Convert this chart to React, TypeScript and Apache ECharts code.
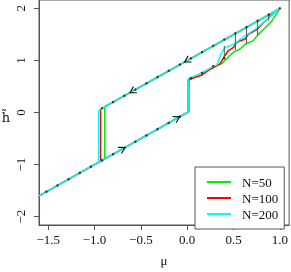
import React, { useEffect, useRef } from "react";
import * as echarts from "echarts";

const xTicks = [-1.5, -1.0, -0.5, 0.0, 0.5, 1.0];
const xTickLabels = ["−1.5", "−1.0", "−0.5", "0.0", "0.5", "1.0"];
const yTicks = [-2, -1, 0, 1, 2];
const yTickLabels = ["−2", "−1", "0", "1", "2"];

const seriesNames = ["N=50", "N=100", "N=200"];
const seriesColors = ["#00ee00", "#ff0000", "#00ffff"];

// hysteresis loops (forward sweep then backward sweep)
const mu50 = [-1.6, 0.02, 0.02, 0.16, 0.285, 0.374, 0.445, 0.5, 0.57, 0.624, 0.713, 0.766, 0.82, 0.91, 1.0, -0.89, -0.89, -1.6];
const h50 = [-1.6, 0.02, 0.64, 0.76, 0.88, 0.94, 1.07, 1.16, 1.22, 1.31, 1.38, 1.5, 1.59, 1.75, 1.99, 0.11, -0.89, -1.6];
const mu100 = [-1.6, 0.01, 0.01, 0.05, 0.1, 0.16, 0.22, 0.285, 0.356, 0.41, 0.445, 0.5, 0.535, 0.624, 0.66, 0.75, 0.82, 0.89, 1.0, -0.936, -0.936, -1.6];
const h100 = [-1.6, 0.01, 0.62, 0.65, 0.68, 0.72, 0.8, 0.86, 0.94, 1.1, 1.19, 1.25, 1.35, 1.41, 1.5, 1.59, 1.72, 1.84, 2.0, 0.064, -0.936, -1.6];
const mu200 = [-1.6, 0.01, 0.01, 0.16, 0.285, 0.32, 0.374, 0.41, 0.5, 0.624, 0.75, 0.874, 1.0, -0.94, -0.957, -0.957, -1.6];
const h200 = [-1.6, 0.01, 0.65, 0.76, 0.89, 0.91, 1.16, 1.25, 1.31, 1.47, 1.62, 1.81, 2.0, 0.06, 0.03, -0.957, -1.6];

// theoretical points
const dotMu = [1.0, 0.88, 0.76, 0.64, 0.52, 0.4, 0.28, 0.16, 0.04, -0.08, -0.2, -0.32, -0.44, -0.56, -0.68, -0.8, -0.92,
  -0.08, -0.2, -0.32, -0.44, -0.56, -0.68, -0.8, -0.92, -1.04, -1.16, -1.28, -1.4, -1.52,
  0.04, 0.16, 0.28, 0.4];
const dotH = [2.0, 1.88, 1.76, 1.64, 1.52, 1.4, 1.28, 1.16, 1.04, 0.92, 0.8, 0.68, 0.56, 0.44, 0.32, 0.2, 0.08,
  -0.08, -0.2, -0.32, -0.44, -0.56, -0.68, -0.8, -0.92, -1.04, -1.16, -1.28, -1.4, -1.52,
  0.66, 0.76, 0.89, 1.04];

// vertical bars
const barMu = [0.4, 0.52, 0.64, 0.76, 0.88];
const barLo = [1.04, 1.2, 1.33, 1.47, 1.76];
const barHi = [1.28, 1.52, 1.64, 1.76, 1.88];

// direction arrows
const arrowMu = [-0.59, 0.0, -0.7, -0.11];
const arrowH = [0.41, 1.0, -0.7, -0.11];
const arrowDir = [-1, -1, 1, 1];

const FONT = "'Liberation Serif', 'DejaVu Serif', serif";

export default function App() {
  const ref = useRef<HTMLDivElement>(null);
  useEffect(() => {
    if (!ref.current) return;
    const chart = echarts.init(ref.current, null, { renderer: "svg" });
    const loops = [
      [mu50, h50],
      [mu100, h100],
      [mu200, h200],
    ];
    const lineSeries = loops.map(([m, h], i) => ({
      name: seriesNames[i],
      type: "line",
      data: m.map((v, k) => [v, h[k]]),
      symbol: "none",
      showSymbol: false,
      lineStyle: { color: seriesColors[i], width: 1.5 },
      itemStyle: { color: seriesColors[i] },
      z: 2 + i,
      silent: true,
    }));
    const option: any = {
      animation: false,
      grid: { left: 39, right: 1, top: 0, bottom: 40, show: true, borderColor: "#555", borderWidth: 1 },
      graphic: [
        {
          type: "text",
          x: 6,
          y: 117,
          style: {
            text: "h\u0303",
            fontFamily: "'DejaVu Serif', serif",
            fontSize: 13,
            fill: "#111",
            align: "center",
            verticalAlign: "middle",
          },
        },
      ],
      legend: {
        data: seriesNames,
        orient: "vertical",
        left: 195,
        top: 167,
        padding: [8, 6, 8, 12],
        itemGap: 2,
        itemWidth: 24,
        itemHeight: 2,
        icon: "rect",
        borderColor: "#555",
        borderWidth: 1,
        borderRadius: 0,
        backgroundColor: "#fff",
        textStyle: { fontFamily: FONT, fontSize: 13, lineHeight: 14, color: "#111", padding: [0, 0, 0, 6] },
      },
      xAxis: {
        type: "value",
        min: -1.6,
        max: 1.1,
        splitLine: { show: false },
        axisLine: { show: true, onZero: false, lineStyle: { color: "#555" } },
        axisTick: { show: true, customValues: xTicks, length: 5, lineStyle: { color: "#555" } },
        axisLabel: {
          customValues: xTicks,
          formatter: (v: number) => {
            const i = xTicks.findIndex((t) => Math.abs(t - v) < 1e-6);
            return i >= 0 ? xTickLabels[i] : "";
          },
          margin: 8,
          color: "#111",
          fontFamily: FONT,
          fontSize: 13,
        },
        name: "μ",
        nameLocation: "middle",
        nameGap: 29,
        nameTextStyle: { fontFamily: FONT, fontSize: 13, color: "#111" },
      },
      yAxis: {
        type: "value",
        min: -2.16,
        max: 2.16,
        splitLine: { show: false },
        axisLine: { show: true, onZero: false, lineStyle: { color: "#555" } },
        axisTick: { show: true, customValues: yTicks, length: 5, lineStyle: { color: "#555" } },
        axisLabel: {
          customValues: yTicks,
          rotate: 90,
          formatter: (v: number) => {
            const i = yTicks.findIndex((t) => Math.abs(t - v) < 1e-6);
            return i >= 0 ? yTickLabels[i] : "";
          },
          margin: 12,
          color: "#111",
          fontFamily: FONT,
          fontSize: 13,
        },
      },
      series: [
        ...lineSeries,
        {
          type: "custom",
          silent: true,
          z: 6,
          data: barMu.map((m, i) => [m, barLo[i], barHi[i]]),
          encode: { x: 0, y: [1, 2] },
          renderItem: (params: any, api: any) => {
            const x = api.value(0);
            const p1 = api.coord([x, api.value(1)]);
            const p2 = api.coord([x, api.value(2)]);
            return {
              type: "line",
              shape: { x1: p1[0], y1: p1[1], x2: p2[0], y2: p2[1] },
              style: { stroke: "#555", lineWidth: 1 },
            };
          },
        },
        {
          type: "scatter",
          silent: true,
          z: 7,
          symbolSize: 2.5,
          itemStyle: { color: "#222" },
          data: dotMu.map((m, i) => [m, dotH[i]]),
        },
        {
          type: "custom",
          silent: true,
          z: 8,
          data: arrowMu.map((m, i) => [m, arrowH[i], arrowDir[i]]),
          encode: { x: 0, y: 1 },
          renderItem: (params: any, api: any) => {
            const m = api.value(0);
            const h = api.value(1);
            const d = api.value(2);
            const c = api.coord([m, h]);
            const q = api.coord([m + 0.1 * d, h + 0.1 * d]);
            let ux = q[0] - c[0];
            let uy = q[1] - c[1];
            const len = Math.hypot(ux, uy) || 1;
            ux /= len;
            uy /= len;
            const nx = -uy;
            const ny = ux;
            const a = 3;
            const b = 3.5;
            return {
              type: "polyline",
              shape: {
                points: [
                  [c[0] - ux * a + nx * b, c[1] - uy * a + ny * b],
                  [c[0] + ux * a, c[1] + uy * a],
                  [c[0] - ux * a - nx * b, c[1] - uy * a - ny * b],
                ],
              },
              style: { stroke: "#111", lineWidth: 1.1, fill: "none" },
            };
          },
        },
      ],
    };
    chart.setOption(option);
    return () => chart.dispose();
  }, []);
  return <div ref={ref} style={{ position: "fixed", left: 0, top: 0, width: 291, height: 272 }} />;
}
